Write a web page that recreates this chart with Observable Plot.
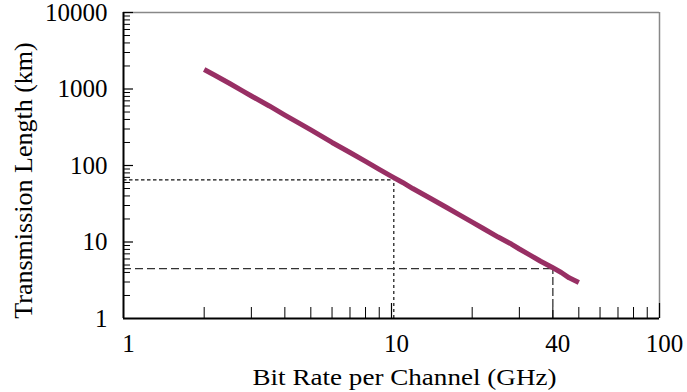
<!DOCTYPE html>
<html><head><meta charset="utf-8">
<script src="https://cdn.jsdelivr.net/npm/d3@7"></script>
<script src="https://cdn.jsdelivr.net/npm/@observablehq/plot@0.6"></script>
<style>html,body{margin:0;padding:0;background:#fff} svg{display:block}</style>
</head><body><div id="chart"></div>
<script>
const bitRate = [2, 2.2, 2.5, 2.8, 3, 3.5, 4, 4.5, 5, 6, 7, 8, 9, 10, 11, 12, 14, 16, 18, 20, 22, 25, 28, 30, 33, 36, 40, 43, 46, 50];
const transLength = [1800, 1500, 1170, 930, 810, 600, 455, 360, 292, 200, 148, 113, 89, 72, 60, 50, 37, 28.5, 22.5, 18.2, 15, 11.6, 9.4, 8.1, 6.7, 5.6, 4.6, 4.0, 3.4, 2.95];
const xTickLabels = [1, 10, 40, 100];
const yTickLabels = [1, 10, 100, 1000, 10000];
const xMajor = [10, 100];
const xMinor = [2, 3, 4, 5, 6, 7, 8, 9, 20, 30, 40, 50, 60, 70, 80, 90];
const yMajor = [10, 100, 1000, 10000];
const yMinor = [2,3,4,5,6,7,8,9, 20,30,40,50,60,70,80,90, 200,300,400,500,600,700,800,900, 2000,3000,4000,5000,6000,7000,8000,9000];
const guide10 = {x: 10.2, y: 65};
const guide40 = {x: 40, y: 4.5};
const xTitle = "Bit Rate per Channel (GHz)";
const yTitle = "Transmission Length (km)";

const data = bitRate.map((b, i) => ({b, L: transLength[i]}));
const xDom = [1, 100], yDom = [1, 10000];
const base = yDom[0], leftX = xDom[0];

const chart = Plot.plot({
  width: 687, height: 392,
  marginLeft: 123, marginRight: 28, marginTop: 12, marginBottom: 74,
  style: {fontFamily: "'Liberation Serif', 'Times New Roman', serif", background: "#fff", color: "#000"},
  x: {type: "log", domain: xDom, axis: null},
  y: {type: "log", domain: yDom, axis: null},
  marks: [
    Plot.ruleY([yDom[1]], {stroke: "#888", strokeWidth: 1.5}),
    Plot.ruleX([xDom[1]], {stroke: "#888", strokeWidth: 1.5}),
    Plot.ruleY([guide10], {y: "y", x1: () => leftX, x2: "x", stroke: "#111", strokeWidth: 1.2, strokeDasharray: "3.5,2.5"}),
    Plot.ruleX([guide10], {x: "x", y1: () => base, y2: "y", stroke: "#111", strokeWidth: 1.2, strokeDasharray: "3,3"}),
    Plot.ruleY([guide40], {y: "y", x1: () => leftX, x2: "x", stroke: "#333", strokeWidth: 1.3, strokeDasharray: "8,4"}),
    Plot.ruleX([guide40], {x: "x", y1: () => base, y2: "y", stroke: "#333", strokeWidth: 1.3, strokeDasharray: "8,3"}),
    Plot.line(data, {x: "b", y: "L", stroke: "#982f64", strokeWidth: 5, strokeLinecap: "butt"}),
    Plot.ruleX(xMinor, {x: d => d, y1: () => base, y2: () => base, insetTop: -11, stroke: "#000", strokeWidth: 1}),
    Plot.ruleX(xMajor, {x: d => d, y1: () => base, y2: () => base, insetTop: -15, stroke: "#000", strokeWidth: 1.2}),
    Plot.ruleY(yMinor, {y: d => d, x1: () => leftX, x2: () => leftX, insetRight: -7, stroke: "#000", strokeWidth: 1}),
    Plot.ruleY(yMajor, {y: d => d, x1: () => leftX, x2: () => leftX, insetRight: -10, stroke: "#000", strokeWidth: 1.2}),
    Plot.ruleX([xDom[0]], {stroke: "#000", strokeWidth: 2}),
    Plot.ruleY([yDom[0]], {stroke: "#000", strokeWidth: 2}),
    Plot.text(yTickLabels, {y: d => d, frameAnchor: "left", text: d => String(d), textAnchor: "end", lineAnchor: "middle", dx: -16, fontSize: 25, fill: "#000"}),
    Plot.text(xTickLabels, {x: d => d, frameAnchor: "bottom", text: d => String(d), textAnchor: "middle", lineAnchor: "middle", dy: 25, dx: 5, fontSize: 25, fill: "#000"}),
    Plot.text([yTitle], {frameAnchor: "left", text: d => d, rotate: -90, textAnchor: "middle", lineAnchor: "middle", dx: -100, dy: 15, fontSize: 26, fill: "#000"}),
    Plot.text([xTitle], {frameAnchor: "bottom", text: d => d, textAnchor: "middle", lineAnchor: "middle", dx: 13, dy: 59, fontSize: 23, fill: "#000", className: "xtitle"})
  ]
});
document.getElementById("chart").appendChild(chart);
const xt = chart.querySelector(".xtitle text");
if (xt) { xt.setAttribute("textLength", 304); xt.setAttribute("lengthAdjust", "spacingAndGlyphs"); }
</script>
</body></html>
